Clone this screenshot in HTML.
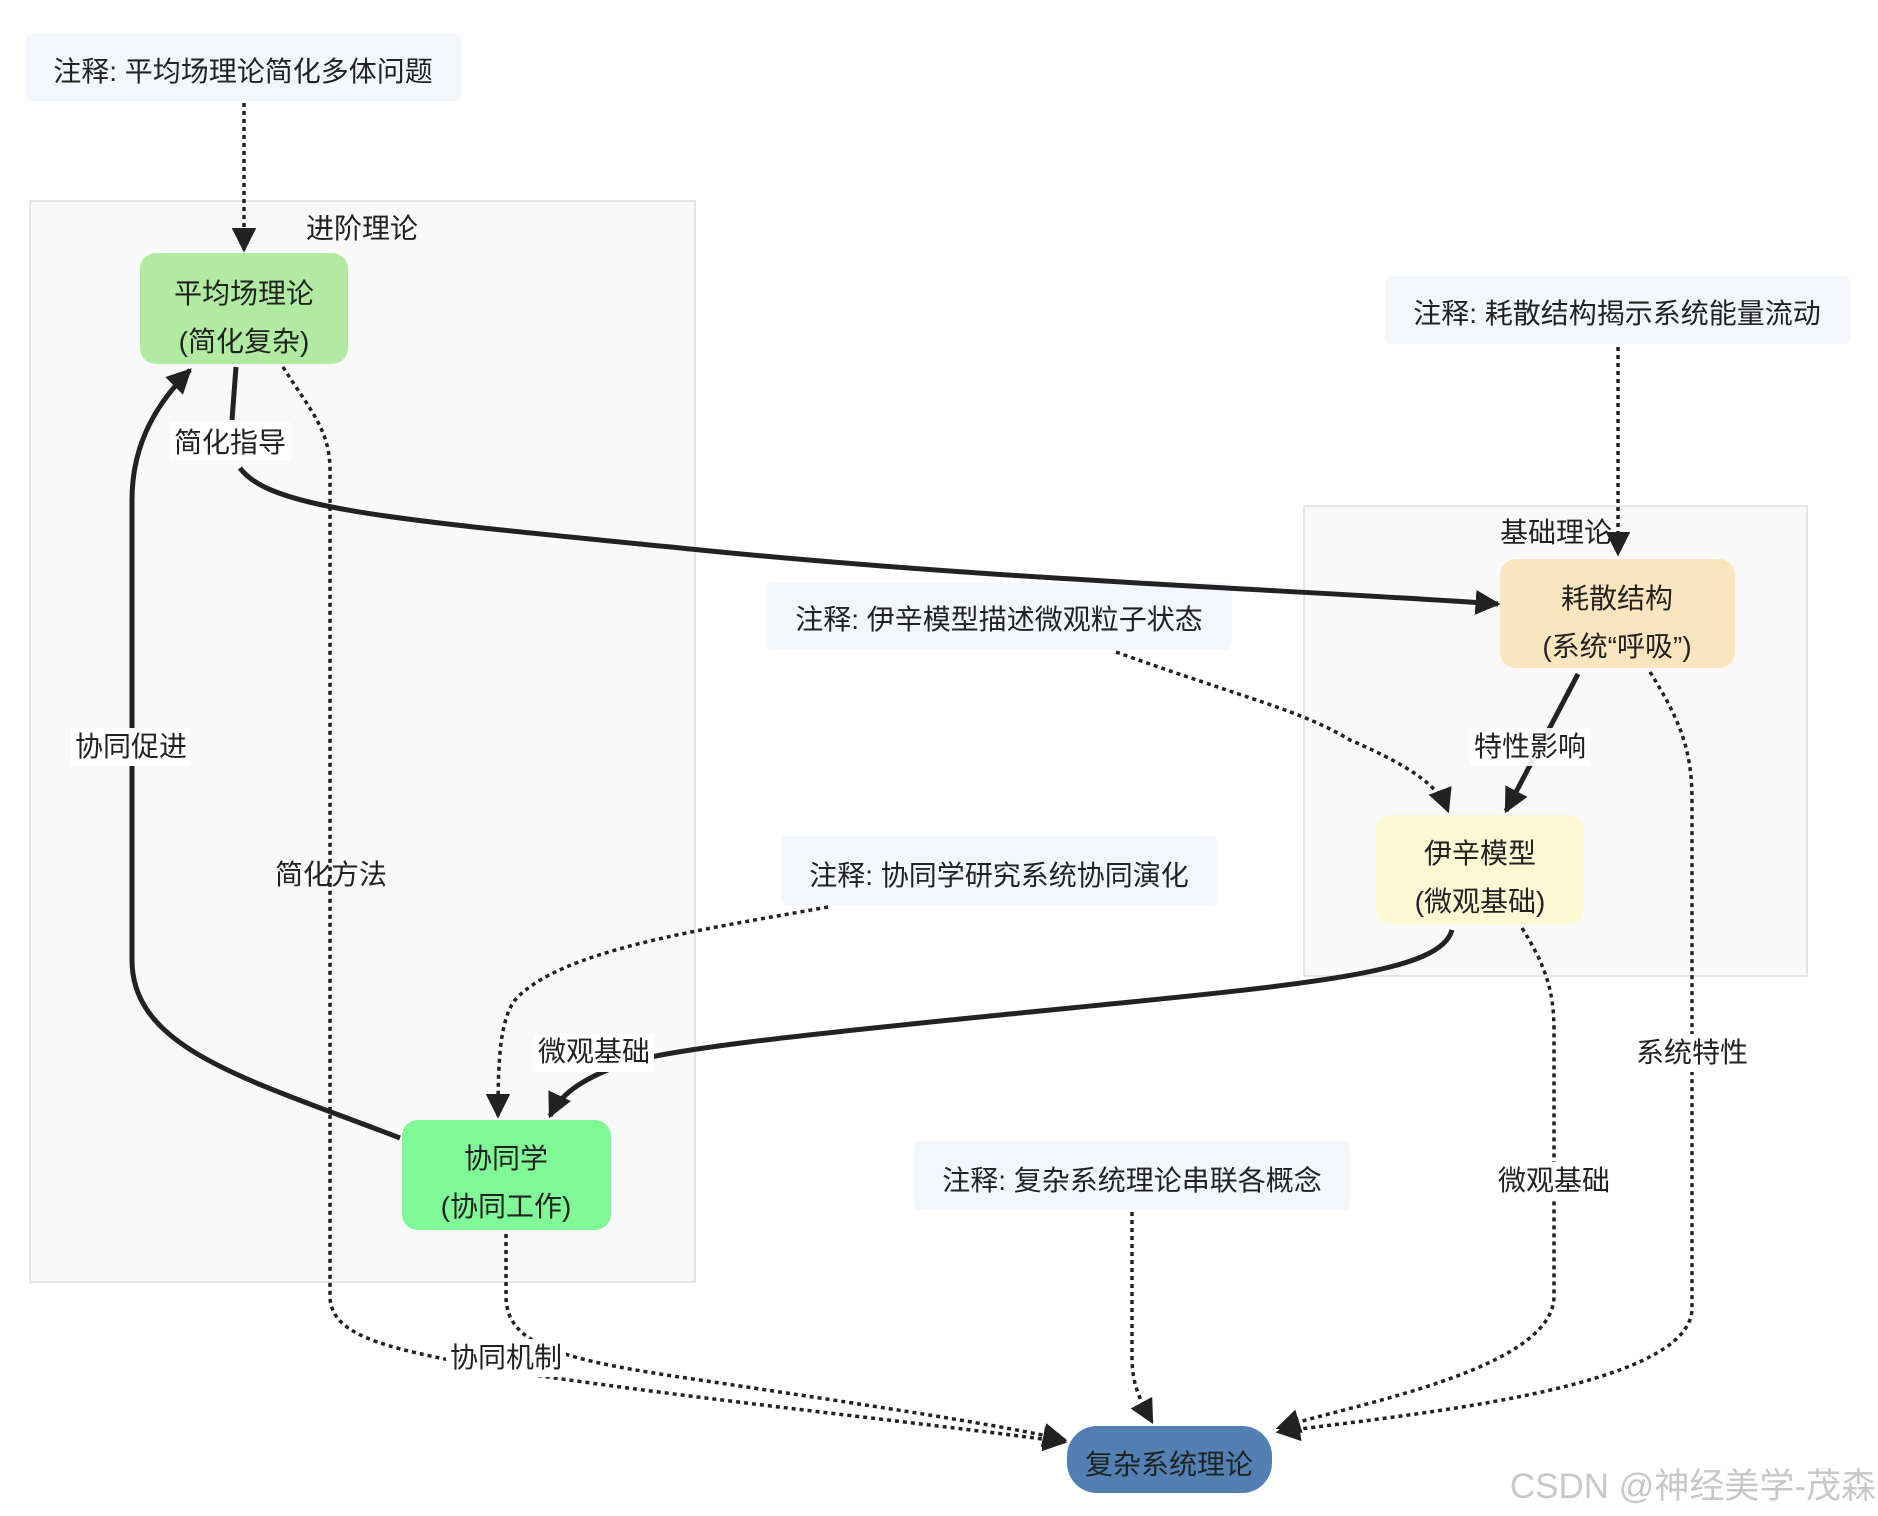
<!DOCTYPE html>
<html><head><meta charset="utf-8"><style>
html,body{margin:0;padding:0;background:#fff;}
svg{display:block;}
text{font-family:"Liberation Sans","Noto Sans CJK SC",sans-serif;fill:#222;}
</style></head><body>
<svg width="1878" height="1516" viewBox="0 0 1878 1516" xmlns="http://www.w3.org/2000/svg">
<defs>
<marker id="a" viewBox="0 0 10 10" refX="9" refY="5" markerWidth="5" markerHeight="5" orient="auto" markerUnits="strokeWidth"><path d="M0,0 L10,5 L0,10 z" fill="#222"/></marker>
<marker id="b" viewBox="0 0 10 10" refX="9" refY="5" markerWidth="7" markerHeight="7" orient="auto" markerUnits="strokeWidth"><path d="M0,0 L10,5 L0,10 z" fill="#222"/></marker>
</defs>
<!-- clusters -->
<rect x="30" y="201" width="665" height="1081" fill="#f9f9f9" stroke="#ddd" stroke-width="1.5"/>
<text x="362" y="238" font-size="28" text-anchor="middle">进阶理论</text>
<rect x="1304" y="506" width="503" height="470" fill="#f9f9f9" stroke="#ddd" stroke-width="1.5"/>
<text x="1556" y="542" font-size="28" text-anchor="middle">基础理论</text>

<!-- notes -->
<g font-size="28" text-anchor="middle">
<rect x="26" y="34" width="435" height="67" rx="6" fill="#f3f7fb"/><text x="243" y="81">注释: 平均场理论简化多体问题</text>
<rect x="1385" y="276" width="465" height="68" rx="6" fill="#f3f7fb"/><text x="1617" y="323">注释: 耗散结构揭示系统能量流动</text>
<rect x="767" y="583" width="465" height="66" rx="6" fill="#f3f7fb"/><text x="999" y="629">注释: 伊辛模型描述微观粒子状态</text>
<rect x="781" y="836" width="436" height="69" rx="6" fill="#f3f7fb"/><text x="999" y="885">注释: 协同学研究系统协同演化</text>
<rect x="914" y="1141" width="436" height="69" rx="6" fill="#f3f7fb"/><text x="1132" y="1190">注释: 复杂系统理论串联各概念</text>
</g>

<g fill="none" stroke="#222">
<!-- solid edges -->
<path d="M236,367 L232,420" stroke-width="5"/>
<path d="M240,468 C270,510 400,520 700,550 S1300,590 1498,604" stroke-width="5" marker-end="url(#a)"/>
<path d="M400,1138 C250,1080 132,1050 132,960 L132,500 C132,440 160,400 190,370" stroke-width="5" marker-end="url(#a)"/>
<path d="M1578,674 L1506,811" stroke-width="5" marker-end="url(#a)"/>
<path d="M1452,930 C1440,975 1300,985 1000,1015 C800,1035 660,1050 620,1065 C580,1080 560,1095 550,1116" stroke-width="5" marker-end="url(#a)"/>
<!-- dotted edges -->
<g stroke-width="3.5" stroke-dasharray="4 4">
<path d="M244,103 L244,250" marker-end="url(#b)"/>
<path d="M283,367 C310,410 330,430 330,470 L330,1296 C330,1340 400,1350 500,1370 C700,1400 900,1420 1065,1442" marker-end="url(#b)"/>
<path d="M1116,652 C1250,700 1300,710 1350,740 C1420,770 1440,790 1448,811" marker-end="url(#b)"/>
<path d="M1618,347 L1618,554" marker-end="url(#b)"/>
<path d="M828,907 C700,930 560,950 515,1000 C500,1020 498,1060 498,1116" marker-end="url(#b)"/>
<path d="M1650,672 C1680,720 1692,750 1692,800 L1692,1308 C1692,1390 1400,1415 1278,1432" marker-end="url(#b)"/>
<path d="M1522,928 C1545,965 1554,990 1554,1030 L1554,1296 C1554,1370 1350,1405 1278,1428" marker-end="url(#b)"/>
<path d="M506,1234 L506,1296 C506,1345 560,1360 700,1380 C900,1410 1000,1425 1065,1440" marker-end="url(#b)"/>
<path d="M1132,1212 L1132,1356 C1132,1385 1140,1400 1152,1422" marker-end="url(#b)"/>
</g>
</g>

<!-- edge labels -->
<g font-size="28" text-anchor="middle">
<rect x="170" y="422" width="120" height="38" fill="#fff"/><text x="230" y="452">简化指导</text>
<text x="331" y="884">简化方法</text>
<rect x="71" y="728" width="120" height="38" fill="#fff"/><text x="131" y="756">协同促进</text>
<rect x="1470" y="728" width="120" height="38" fill="#fff" opacity="0.9"/><text x="1530" y="756">特性影响</text>
<rect x="534" y="1034" width="120" height="38" fill="#fff"/><text x="594" y="1061">微观基础</text>
<rect x="1632" y="1034" width="120" height="38" fill="#fff"/><text x="1692" y="1062">系统特性</text>
<rect x="1494" y="1162" width="120" height="38" fill="#fff"/><text x="1554" y="1190">微观基础</text>
<rect x="446" y="1339" width="120" height="38" fill="#fff"/><text x="506" y="1367">协同机制</text>
</g>

<!-- nodes -->
<g font-size="28" text-anchor="middle">
<rect x="140" y="253" width="208" height="111" rx="16" fill="#b0eba1"/>
<text x="244" y="303">平均场理论</text><text x="244" y="351">(简化复杂)</text>
<rect x="1500" y="559" width="235" height="109" rx="16" fill="#fae5be"/>
<text x="1617" y="608">耗散结构</text><text x="1617" y="656">(系统“呼吸”)</text>
<rect x="1376" y="815" width="208" height="110" rx="16" fill="#fdf8d4"/>
<text x="1480" y="863">伊辛模型</text><text x="1480" y="911">(微观基础)</text>
<rect x="402" y="1120" width="209" height="110" rx="16" fill="#80f898"/>
<text x="506" y="1168">协同学</text><text x="506" y="1216">(协同工作)</text>
<rect x="1067" y="1426" width="205" height="67" rx="30" fill="#5280b3"/>
<text x="1169" y="1474">复杂系统理论</text>
</g>

<text x="1876" y="1498" font-size="35" text-anchor="end" style="fill:#c8c8c8">CSDN @神经美学-茂森</text>
</svg>
</body></html>
